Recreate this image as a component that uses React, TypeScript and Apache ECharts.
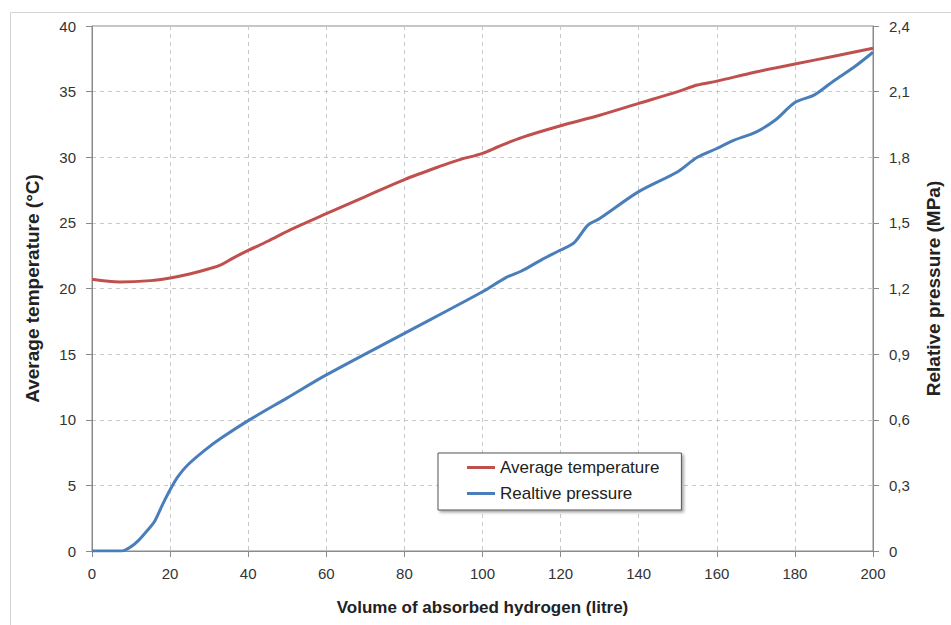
import React, { useEffect, useRef } from "react";
import * as echarts from "echarts";

const volumeTicks = [0, 20, 40, 60, 80, 100, 120, 140, 160, 180, 200];

const tempVolume = [0, 7, 15, 20, 25, 30, 33, 36, 40, 45, 51, 60, 70, 80, 90, 94, 100, 104, 110, 120, 130, 140, 150, 155, 160, 170, 180, 190, 200];
const temperature = [20.7, 20.5, 20.6, 20.8, 21.1, 21.5, 21.8, 22.3, 22.9, 23.6, 24.5, 25.7, 27.0, 28.3, 29.4, 29.8, 30.3, 30.8, 31.5, 32.4, 33.2, 34.1, 35.0, 35.5, 35.8, 36.5, 37.1, 37.7, 38.3];

const pressVolume = [0, 7.5, 10, 12, 14, 16, 18, 20, 22, 24.5, 29, 33, 40, 50, 60, 80, 100, 106, 110, 115, 120, 123.5, 127, 130, 140, 150, 155, 160, 164, 170, 175, 180, 185, 190, 195, 200];
const pressure = [0, 0, 0.02, 0.05, 0.09, 0.135, 0.21, 0.28, 0.34, 0.393, 0.462, 0.515, 0.596, 0.70, 0.805, 0.995, 1.185, 1.25, 1.28, 1.33, 1.376, 1.41, 1.49, 1.52, 1.643, 1.734, 1.80, 1.84, 1.875, 1.915, 1.97, 2.05, 2.085, 2.15, 2.21, 2.28];

const seriesNames = ["Average temperature", "Realtive pressure"];
const xTitle = "Volume of absorbed hydrogen (litre)";
const yLeftTitle = "Average temperature (°C)";
const yRightTitle = "Relative pressure (MPa)";

export default function App() {
  const ref = useRef<HTMLDivElement>(null);
  useEffect(() => {
    if (!ref.current) return;
    const chart = echarts.init(ref.current, undefined, { renderer: "svg", width: 951, height: 625 });
    const font = "Liberation Sans, Arial, sans-serif";
    const gridLine = { show: true, lineStyle: { color: "#c8c8c8", type: [4, 4] as any, width: 1 } };
    const axisColor = "#8a8a8a";
    chart.setOption({
      animation: false,
      backgroundColor: "#ffffff",
      textStyle: { fontFamily: font },
      graphic: [
        {
          type: "rect",
          shape: { x: 10.5, y: 12.5, width: 1000, height: 800 },
          style: { fill: "none", stroke: "#d4d4d4", lineWidth: 1 },
          z: -10,
        },
      ],
      grid: {
        left: 92,
        top: 26,
        right: 76,
        bottom: 74,
        show: true,
        borderColor: axisColor,
        borderWidth: 1,
      },
      legend: {
        left: 438,
        top: 453,
        orient: "vertical",
        data: seriesNames,
        icon: "rect",
        itemWidth: 28,
        itemHeight: 3,
        itemGap: 9,
        padding: [6, 22, 8, 29],
        borderColor: "#555555",
        borderWidth: 1,
        backgroundColor: "#ffffff",
        shadowBlur: 3,
        shadowOffsetX: 2,
        shadowOffsetY: 2,
        shadowColor: "rgba(0,0,0,0.35)",
        textStyle: { fontSize: 17, lineHeight: 17, color: "#222", fontFamily: font },
      },
      xAxis: {
        type: "value",
        min: 0,
        max: 200,
        interval: 20,
        name: xTitle,
        nameLocation: "middle",
        nameGap: 48,
        nameTextStyle: { fontSize: 17, fontWeight: "bold", color: "#222", fontFamily: font },
        axisLine: { show: true, lineStyle: { color: axisColor } },
        axisTick: { show: true, length: 6, lineStyle: { color: axisColor } },
        axisLabel: {
          fontSize: 15,
          color: "#333",
          margin: 15,
          formatter: (v: number) => (volumeTicks.includes(v) ? String(v) : ""),
        },
        splitLine: gridLine,
      },
      yAxis: [
        {
          type: "value",
          min: 0,
          max: 40,
          interval: 5,
          name: yLeftTitle,
          nameLocation: "middle",
          nameRotate: 90,
          nameGap: 50,
          nameTextStyle: { fontSize: 19, fontWeight: "bold", color: "#222", fontFamily: font },
          axisLine: { show: true, lineStyle: { color: axisColor } },
          axisTick: { show: true, length: 6, lineStyle: { color: axisColor } },
          axisLabel: { fontSize: 15, color: "#333", margin: 16 },
          splitLine: gridLine,
        },
        {
          type: "value",
          min: 0,
          max: 2.4,
          interval: 0.3,
          position: "right",
          name: yRightTitle,
          nameLocation: "middle",
          nameRotate: 90,
          nameGap: 51,
          nameTextStyle: { fontSize: 19, fontWeight: "bold", color: "#222", fontFamily: font },
          axisLine: { show: true, lineStyle: { color: axisColor } },
          axisTick: { show: true, length: 6, lineStyle: { color: axisColor } },
          axisLabel: {
            fontSize: 15,
            color: "#333",
            margin: 16,
            formatter: (v: number) => (v === 0 ? "0" : v.toFixed(1).replace(".", ",")),
          },
          splitLine: { show: false },
        },
      ],
      series: [
        {
          name: seriesNames[0],
          type: "line",
          yAxisIndex: 0,
          data: tempVolume.map((x, i) => [x, temperature[i]]),
          symbol: "none",
          smooth: 0.3,
          lineStyle: { color: "#c0504d", width: 3 },
          itemStyle: { color: "#c0504d" },
        },
        {
          name: seriesNames[1],
          type: "line",
          yAxisIndex: 1,
          data: pressVolume.map((x, i) => [x, pressure[i]]),
          symbol: "none",
          smooth: 0.3,
          lineStyle: { color: "#4a7ebb", width: 3 },
          itemStyle: { color: "#4a7ebb" },
        },
      ],
    });
    return () => chart.dispose();
  }, []);
  return (
    <div
      ref={ref}
      style={{ position: "absolute", left: 0, top: 0, width: 951, height: 625 }}
    />
  );
}
